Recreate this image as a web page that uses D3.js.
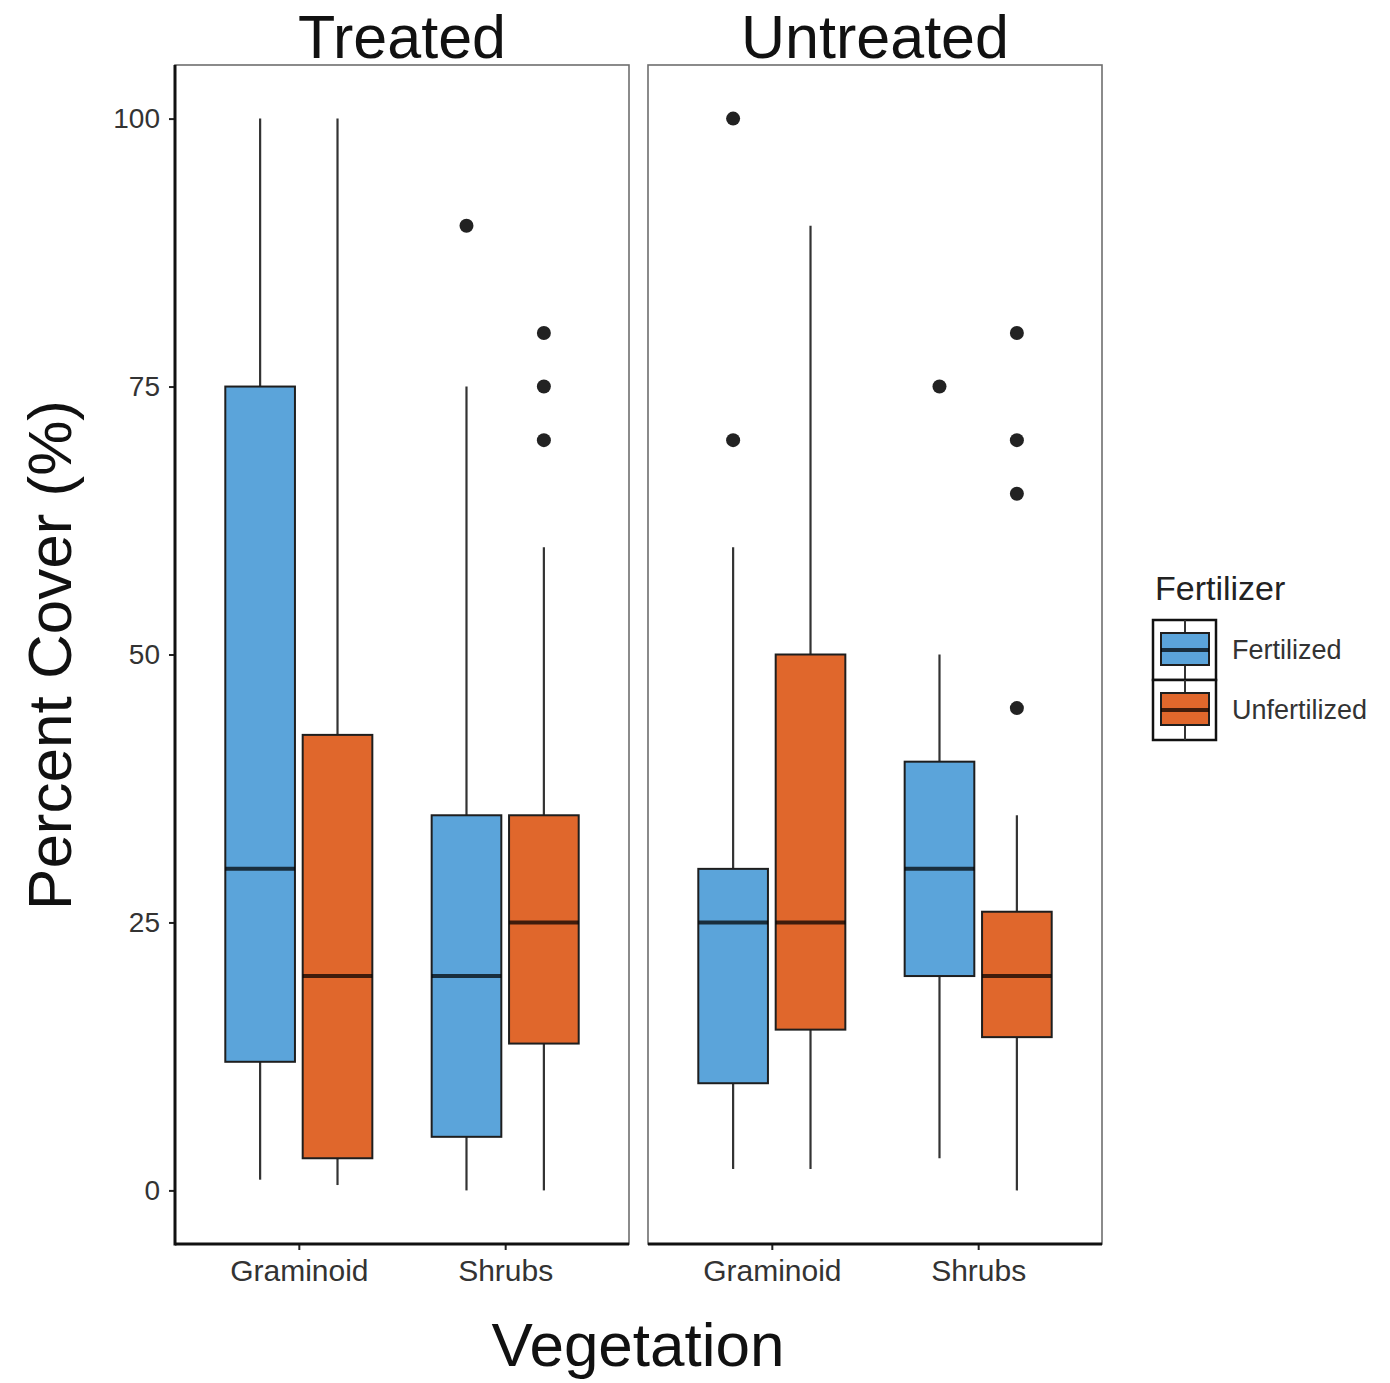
<!DOCTYPE html>
<html>
<head>
<meta charset="utf-8">
<script src="https://cdn.jsdelivr.net/npm/d3@7"></script>
<style>
  html, body { margin: 0; padding: 0; background: #fff; }
  svg { display: block; font-family: "Liberation Sans", Arial, sans-serif; }
</style>
</head>
<body>
<svg id="chart" width="1390" height="1383"></svg>
<script>
// ---------------- data ----------------
const facets = ["Treated", "Untreated"];
const vegetation = ["Graminoid", "Shrubs"];
const fertilizer = ["Fertilized", "Unfertilized"];
const yTicks = [0, 25, 50, 75, 100];

// group order: facet / vegetation / fertilizer
const groupFacet = ["Treated","Treated","Treated","Treated","Untreated","Untreated","Untreated","Untreated"];
const groupVeg   = ["Graminoid","Graminoid","Shrubs","Shrubs","Graminoid","Graminoid","Shrubs","Shrubs"];
const groupFert  = ["Fertilized","Unfertilized","Fertilized","Unfertilized","Fertilized","Unfertilized","Fertilized","Unfertilized"];
const whiskerLow  = [1,   0.5, 0,  0,    2,  2,  3,  0];
const q1          = [12,  3,   5,  13.7, 10, 15, 20, 14.3];
const median      = [30,  20,  20, 25,   25, 25, 30, 20];
const q3          = [75,  42.5,35, 35,   30, 50, 40, 26];
const whiskerHigh = [100, 100, 75, 60,   60, 90, 50, 35];
const outliers    = [[], [], [90], [70, 75, 80], [70, 100], [], [75], [45, 65, 70, 80]];

// ---------------- layout ----------------
const svg = d3.select("#chart");
const panelTop = 65, panelBottom = 1244;
const panelLefts = [175, 648];
const panelW = 454;
const colors = { "Fertilized": "#5ba4da", "Unfertilized": "#e0672c" };

const y = d3.scaleLinear().domain([-5, 105]).range([panelBottom, panelTop]);

// discrete x with ggplot-like expansion (0.6 on each side)
const xCont = d3.scaleLinear().domain([0.4, 2.6]).range([0, panelW]);
const unit = xCont(2) - xCont(1);
const dodgeW = 0.75;
const boxW = dodgeW / 2 * 0.9;

facets.forEach((f, fi) => {
  const left = panelLefts[fi];
  const g = svg.append("g").attr("transform", `translate(${left},0)`);

  // panel border
  g.append("rect")
    .attr("x", 0).attr("y", panelTop)
    .attr("width", panelW).attr("height", panelBottom - panelTop)
    .attr("fill", "none").attr("stroke", "#6e6e6e").attr("stroke-width", 1.6);

  // strip title
  svg.append("text")
    .attr("x", left + panelW / 2).attr("y", 58)
    .attr("text-anchor", "middle")
    .attr("font-size", 61).attr("fill", "#111")
    .text(f);

  // boxes
  groupFacet.forEach((gf, i) => {
    if (gf !== f) return;
    const vi = vegetation.indexOf(groupVeg[i]);
    const di = fertilizer.indexOf(groupFert[i]);
    const cx = xCont(vi + 1 + (di === 0 ? -dodgeW / 4 : dodgeW / 4));
    const bw = boxW * unit;
    const col = colors[groupFert[i]];

    // whiskers
    g.append("line").attr("x1", cx).attr("x2", cx)
      .attr("y1", y(q3[i])).attr("y2", y(whiskerHigh[i]))
      .attr("stroke", "#333").attr("stroke-width", 2.2);
    g.append("line").attr("x1", cx).attr("x2", cx)
      .attr("y1", y(q1[i])).attr("y2", y(whiskerLow[i]))
      .attr("stroke", "#333").attr("stroke-width", 2.2);
    // box
    g.append("rect")
      .attr("x", cx - bw / 2).attr("y", y(q3[i]))
      .attr("width", bw).attr("height", y(q1[i]) - y(q3[i]))
      .attr("fill", col).attr("stroke", "#1e1e1e").attr("stroke-width", 2);
    // median
    g.append("line")
      .attr("x1", cx - bw / 2).attr("x2", cx + bw / 2)
      .attr("y1", y(median[i])).attr("y2", y(median[i]))
      .attr("stroke", "#000").attr("stroke-opacity", 0.72).attr("stroke-width", 4);
    // outliers
    outliers[i].forEach(v => {
      g.append("circle").attr("cx", cx).attr("cy", y(v)).attr("r", 7)
        .attr("fill", "#222");
    });
  });

  // x axis
  const xAxisScale = d3.scalePoint().domain(vegetation)
    .range([xCont(1), xCont(2)]);
  const xa = g.append("g").attr("transform", `translate(0,${panelBottom})`)
    .call(d3.axisBottom(xAxisScale).tickSize(6).tickPadding(10));
  xa.select(".domain").remove();
  xa.selectAll(".tick line").attr("stroke", "#222").attr("stroke-width", 2);
  xa.selectAll(".tick text").attr("font-size", 30).attr("fill", "#333")
    .attr("font-family", "Liberation Sans, Arial, sans-serif");
  g.append("line").attr("x1", 0).attr("x2", panelW)
    .attr("y1", panelBottom).attr("y2", panelBottom)
    .attr("stroke", "#111").attr("stroke-width", 3);

  if (fi === 0) {
    const ya = g.append("g")
      .call(d3.axisLeft(y).tickValues(yTicks).tickSize(6).tickPadding(9));
    ya.select(".domain").remove();
    ya.selectAll(".tick line").attr("stroke", "#222").attr("stroke-width", 2);
    ya.selectAll(".tick text").attr("font-size", 28).attr("fill", "#333")
      .attr("font-family", "Liberation Sans, Arial, sans-serif");
    g.append("line").attr("x1", 0).attr("x2", 0)
      .attr("y1", panelTop).attr("y2", panelBottom + 1.5)
      .attr("stroke", "#111").attr("stroke-width", 3);
  }
});

// axis titles
svg.append("text")
  .attr("transform", `translate(71,655) rotate(-90)`)
  .attr("text-anchor", "middle")
  .attr("font-size", 62).attr("fill", "#111")
  .text("Percent Cover (%)");

svg.append("text")
  .attr("x", 638).attr("y", 1366)
  .attr("text-anchor", "middle")
  .attr("font-size", 62).attr("fill", "#111")
  .text("Vegetation");

// legend
const lg = svg.append("g").attr("transform", "translate(1153,0)");
lg.append("text").attr("x", 2).attr("y", 600)
  .attr("font-size", 34).attr("fill", "#222").text("Fertilizer");
fertilizer.forEach((fz, k) => {
  const top = 620 + k * 60;
  lg.append("rect").attr("x", 0).attr("y", top).attr("width", 63).attr("height", 60)
    .attr("fill", "#fff").attr("stroke", "#111").attr("stroke-width", 2.5);
  lg.append("line").attr("x1", 32).attr("x2", 32).attr("y1", top).attr("y2", top + 60)
    .attr("stroke", "#333").attr("stroke-width", 2);
  lg.append("rect").attr("x", 8).attr("y", top + 13).attr("width", 48).attr("height", 32)
    .attr("fill", colors[fz]).attr("stroke", "#1e1e1e").attr("stroke-width", 2);
  lg.append("line").attr("x1", 8).attr("x2", 56).attr("y1", top + 30).attr("y2", top + 30)
    .attr("stroke", "#000").attr("stroke-opacity", 0.72).attr("stroke-width", 4);
  lg.append("text").attr("x", 79).attr("y", top + 30).attr("dy", "0.35em")
    .attr("font-size", 27).attr("fill", "#333").text(fz);
});
</script>
</body>
</html>
